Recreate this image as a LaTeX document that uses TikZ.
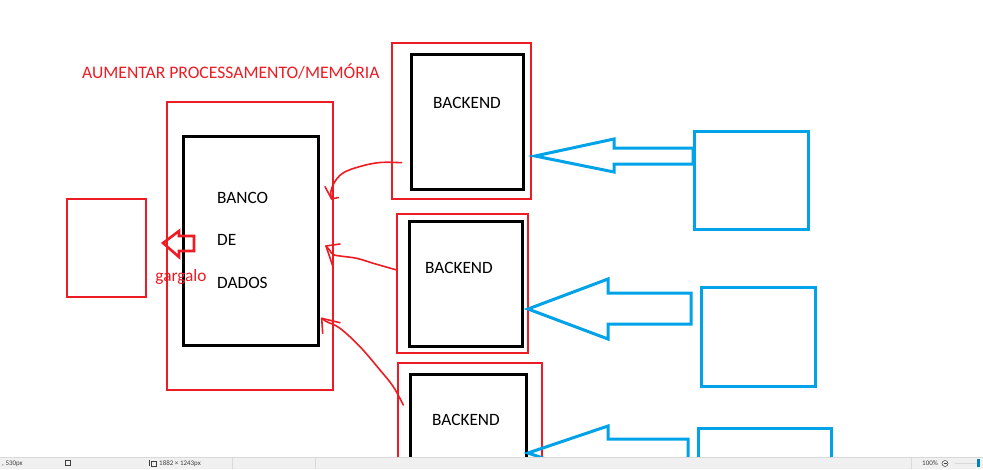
\documentclass[tikz,border=0pt]{standalone}
\usepackage{fontspec}
\setmainfont{Carlito}
\usetikzlibrary{arrows.meta}
\definecolor{pred}{HTML}{ED1C24}
\definecolor{pblue}{HTML}{00A2E8}
\definecolor{barbg}{HTML}{F0F0F0}
\definecolor{barline}{HTML}{D9D9D9}
\definecolor{bartext}{HTML}{404040}
\begin{document}
\begin{tikzpicture}[x=1pt,y=-1pt,
  boxbase/.style={rectangle,anchor=north west,inner sep=0pt,outer sep=0pt},
  redbox/.style={boxbase,draw=pred,line width=2.6pt},
  blackbox/.style={boxbase,draw=black,line width=3pt},
  bluebox/.style={boxbase,draw=pblue,line width=3pt},
  lbl/.style={font=\fontsize{17.3}{20}\selectfont,inner sep=0pt},
  redlbl/.style={lbl,text=pred},
  blockarrowblue/.style={draw=pblue,line width=3pt,line join=miter},
  blockarrowred/.style={draw=pred,line width=2.6pt,line join=miter},
  handarrow/.style={draw=pred,line width=1.6pt,line cap=round,line join=round},
  barsep/.style={draw=barline,line width=0.8pt},
  bartxt/.style={font=\fontsize{7}{8}\selectfont,text=bartext,inner sep=0pt,anchor=west}
]
\useasboundingbox (0,0) rectangle (983,469);
\fill[white] (0,0) rectangle (983,469);

\begin{scope}
\clip (0,0) rectangle (983,457);
% title
\node[redlbl,anchor=west] (title) at (82,72) {\fontsize{17.6}{20}\selectfont AUMENTAR PROCESSAMENTO/MEMÓRIA};

% left red box
\node[redbox,minimum width=79pt,minimum height=98pt] (left) at (67,199) {};

% database
\node[redbox,minimum width=166pt,minimum height=288pt] (dbout) at (167,102) {};
\node[blackbox,minimum width=135pt,minimum height=209pt] (db) at (183,136) {};
\node[lbl,anchor=west] (banco) at (217,198) {BANCO};
\node[lbl,anchor=west] (de) at (217,240) {DE};
\node[lbl,anchor=west] (dados) at (217,283) {DADOS};
\node[redlbl] (gargalo) at (181,277) {gargalo};

% red block arrow
\coordinate (rtip) at (163,243);
\draw[blockarrowred] (rtip) -- (179,231) -- (179,236) -- (194,236) -- (194,251) -- (179,251) -- (179,257) -- cycle;

% backends
\node[redbox,minimum width=139pt,minimum height=156pt] (b1out) at (392,43) {};
\node[blackbox,minimum width=112pt,minimum height=135pt] (b1) at (411,54) {};
\node[lbl] (b1t) at (467,103) {BACKEND};

\node[redbox,minimum width=131pt,minimum height=139pt] (b2out) at (397,214) {};
\node[blackbox,minimum width=113pt,minimum height=125pt] (b2) at (409,221) {};
\node[lbl] (b2t) at (459,268) {BACKEND};

\node[redbox,minimum width=144pt,minimum height=140pt] (b3out) at (398,363) {};
\node[blackbox,minimum width=116pt,minimum height=130pt] (b3) at (410,374) {};
\node[lbl] (b3t) at (466,420) {BACKEND};

% blue boxes
\node[bluebox,minimum width=114pt,minimum height=98pt] (c1) at (694,131) {};
\node[bluebox,minimum width=114pt,minimum height=99pt] (c2) at (701,287) {};
\node[bluebox,minimum width=133pt,minimum height=99pt] (c3) at (698,428) {};

% blue block arrows
\draw[blockarrowblue] (535,156) -- (614,139) -- (614,148) -- (693,148) -- (693,164) -- (614,164) -- (614,172) -- cycle;
\draw[blockarrowblue] (528,309) -- (608,279) -- (608,293) -- (691,293) -- (691,324) -- (608,324) -- (608,339) -- cycle;
\draw[blockarrowblue] (528,453) -- (608,426) -- (608,439) -- (688,439) -- (688,467) -- (608,467) -- (608,480) -- cycle;

% hand-drawn red arrows
\coordinate (a1s) at (401.5,162.7);
\coordinate (a1e) at (331.7,199);
\draw[handarrow] plot[smooth,tension=0.6] coordinates {(a1s) (380,162.5) (360,166.5) (343,173) (334,183) (330.7,193) (a1e)};
\draw[handarrow] (325,186.7) -- (a1e) -- (338.3,197.5);

\coordinate (a2s) at (396.7,270);
\coordinate (a2e) at (326,246);
\draw[handarrow] plot[smooth,tension=0.6] coordinates {(a2s) (373.3,263.3) (356.7,258.3) (340,256) (333,254.5) (329.5,250) (a2e)};
\draw[handarrow] (340,244) -- (a2e) -- (332.7,266);

\coordinate (a3s) at (403.3,405);
\coordinate (a3e) at (321.7,318.3);
\draw[handarrow] plot[smooth,tension=0.6] coordinates {(a3s) (393.3,386.7) (380,370) (360,346.7) (340,328.3) (326.7,321.7) (a3e)};
\draw[handarrow] (340,322.7) -- (a3e) -- (322.7,333.3);
\end{scope}

% status bar
\fill[barbg] (0,457) rectangle (983,469);
\draw[barsep] (0,457) -- (983,457);
\draw[barsep] (232,457) -- (232,469);
\draw[barsep] (315,457) -- (315,469);
\draw[barsep] (911,457) -- (911,469);
\node[bartxt] (pos) at (2,463.5) {, 530px};
\draw[bartext,line width=0.5pt] (65,460.5) rectangle (70,465.5);
\draw[bartext,line width=0.5pt] (149,460) -- (149,466);
\draw[bartext,line width=0.5pt] (151,461) rectangle (156,466);
\node[bartxt] (size) at (159,463.5) {1882 × 1243px};
\node[bartxt] (zoom) at (922,463.5) {100\%};
\draw[bartext,line width=0.5pt] (945,463.5) circle (3pt);
\draw[bartext,line width=0.5pt] (943.5,463.5) -- (946.5,463.5);
\draw[barline,line width=1pt] (955,463.5) -- (978,463.5);
\fill[pblue!80!black] (976.5,458.5) rectangle (979.5,467);
\end{tikzpicture}
\end{document}
